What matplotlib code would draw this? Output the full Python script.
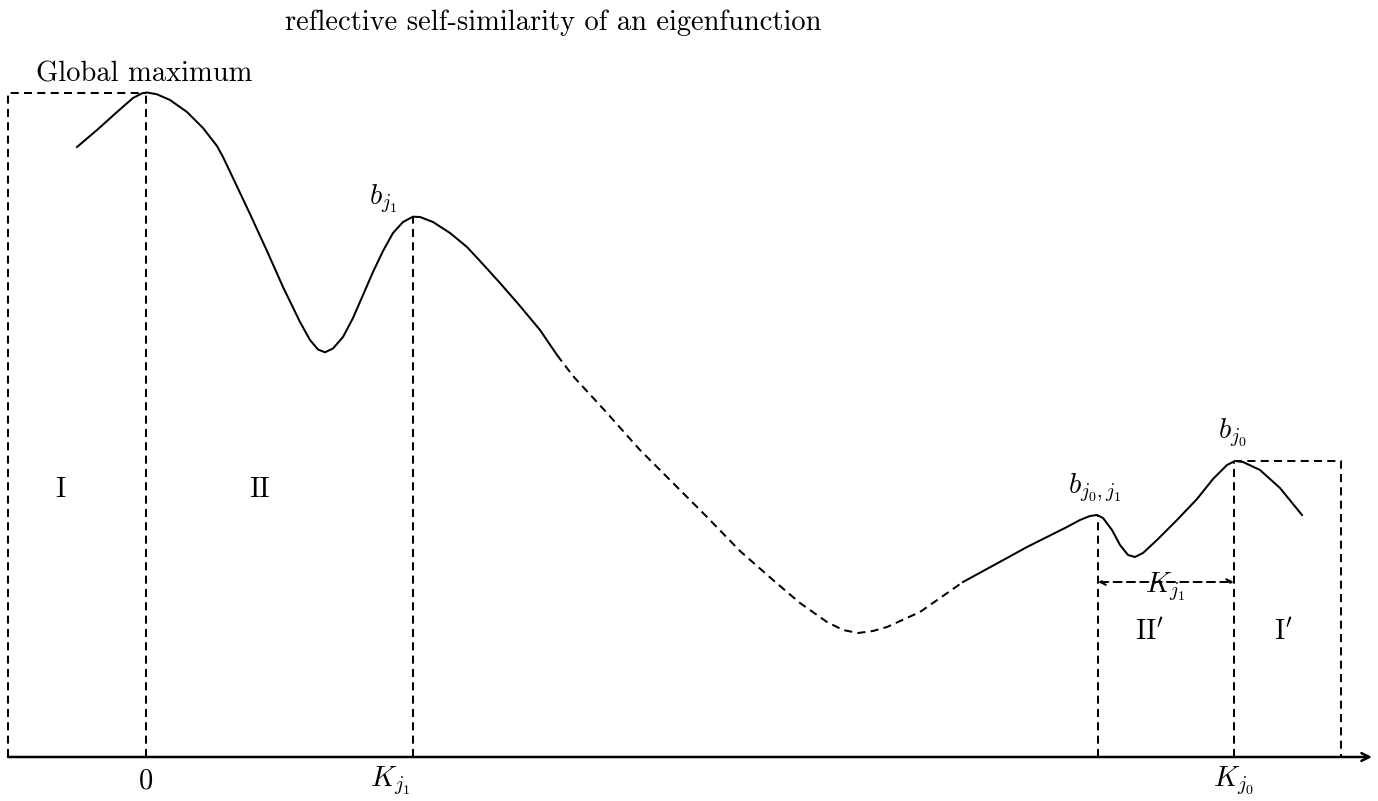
import matplotlib
matplotlib.use("Agg")
import matplotlib.pyplot as plt

plt.rcParams['font.family'] = ['cmr10', 'DejaVu Serif']
plt.rcParams['mathtext.fontset'] = 'cm'
plt.rcParams['axes.formatter.use_mathtext'] = True
plt.rcParams['lines.scale_dashes'] = False

# ---- data (x positions, pixel rows) ----
AXIS_Y = 757
left_x = [77, 97, 117, 133, 142, 147, 157, 170, 187, 203, 217, 223, 233, 250, 267, 283,
          300, 310, 318, 325, 333, 343, 353, 363, 373, 383, 393, 403, 413, 420, 433, 450,
          467, 480, 500, 520, 540, 557]
left_py = [147, 130, 112, 98, 93.3, 92.5, 94.3, 100, 112, 128, 146, 157, 178, 214, 251, 287,
           322, 340, 349.5, 352.3, 348.5, 337, 318, 295, 272, 251, 233, 222, 216.7, 217, 222, 233,
           247, 261, 283, 306, 330, 355]
mid_x = [557, 573, 607, 640, 673, 707, 740, 773, 800, 827, 843, 858, 873, 887, 920, 953, 963]
mid_py = [355, 376, 413, 450, 483, 517, 551, 580, 603, 622, 630, 633, 631, 627, 612, 589, 582]
right_x = [963, 985, 1007, 1027, 1047, 1065, 1080, 1090, 1097, 1103, 1112, 1120, 1128, 1135,
           1143, 1157, 1177, 1197, 1213, 1227, 1235, 1243, 1260, 1280, 1302]
right_py = [582, 570, 558, 547, 537, 528, 520, 516, 515, 518, 530, 545, 555, 557,
            553, 540, 520, 499, 479, 465, 461, 462, 470, 488, 515]

left_y = [AXIS_Y - v for v in left_py]
mid_y = [AXIS_Y - v for v in mid_py]
right_y = [AXIS_Y - v for v in right_py]

global_max = (146, AXIS_Y - 93)
b_j1 = (413, AXIS_Y - 216.7)
b_j0j1 = (1098, AXIS_Y - 515)
b_j0 = (1234, AXIS_Y - 461)
box_left_x = 8
box_right_x = 1341
arrow_y = AXIS_Y - 582

tick_x = [146, 390, 1233]
tick_labels = [r'$0$', r'$K_{j_1}$', r'$K_{j_0}$']

region_labels = ['I', 'II', r'II$^{\prime}$', r'I$^{\prime}$']
region_x = [60, 260, 1150, 1283]
region_py = [490, 490, 632, 632]

# ---- figure ----
W, H = 1378, 801
fig = plt.figure(figsize=(W / 100, H / 100), dpi=100)
ax = fig.add_axes([0, 0, 1, 1])
ax.set_xlim(0, W)
ax.set_ylim(AXIS_Y - H, AXIS_Y)
ax.axis('off')

lw = 1.45
dash = (0, (5.8, 3.8))
k = 'black'

# curve
ax.plot(left_x, left_y, color=k, lw=lw, solid_joinstyle='round')
ax.plot(mid_x, mid_y, color=k, lw=lw, linestyle=dash)
ax.plot(right_x, right_y, color=k, lw=lw, solid_joinstyle='round')

# dashed guides
ax.plot([box_left_x, box_left_x, global_max[0]], [0, global_max[1], global_max[1]],
        color=k, lw=lw, linestyle=dash)
for p in [global_max, b_j1, b_j0j1, b_j0]:
    ax.plot([p[0], p[0]], [0, p[1]], color=k, lw=lw, linestyle=dash)
ax.plot([b_j0[0], box_right_x, box_right_x], [b_j0[1], b_j0[1], 0],
        color=k, lw=lw, linestyle=dash)

# horizontal axis with arrow
ax.annotate('', xy=(1372, 0), xytext=(8, 0),
            arrowprops=dict(arrowstyle='->', color=k, lw=1.8,
                            shrinkA=0, shrinkB=0, mutation_scale=14))

# double arrow K_{j1}
ax.annotate('', xy=(b_j0[0], arrow_y), xytext=(b_j0j1[0], arrow_y),
            arrowprops=dict(arrowstyle='<->', color=k, lw=lw, linestyle=(0, (5.8, 3.8)),
                            shrinkA=0, shrinkB=0, mutation_scale=10))

fs = 20.5
ax.text(553, AXIS_Y - 23, 'reflective self-similarity of an eigenfunction',
        ha='center', va='center', fontsize=fs)
ax.text(144, AXIS_Y - 74, 'Global maximum', ha='center', va='center', fontsize=fs)

for t, x, py in zip(region_labels, region_x, region_py):
    ax.text(x, AXIS_Y - py, t, ha='center', va='center', fontsize=fs)

ax.text(383, AXIS_Y - 199, r'$b_{j_1}$', ha='center', va='center', fontsize=fs)
ax.text(1095, AXIS_Y - 488, r'$b_{j_0,j_1}$', ha='center', va='center', fontsize=fs)
ax.text(1232, AXIS_Y - 433, r'$b_{j_0}$', ha='center', va='center', fontsize=fs)
ax.text(1165, AXIS_Y - 587, r'$K_{j_1}$', ha='center', va='center', fontsize=fs)

for x, t in zip(tick_x, tick_labels):
    ax.text(x, AXIS_Y - 781, t, ha='center', va='center', fontsize=fs)

fig.savefig('out.png', dpi=100)
